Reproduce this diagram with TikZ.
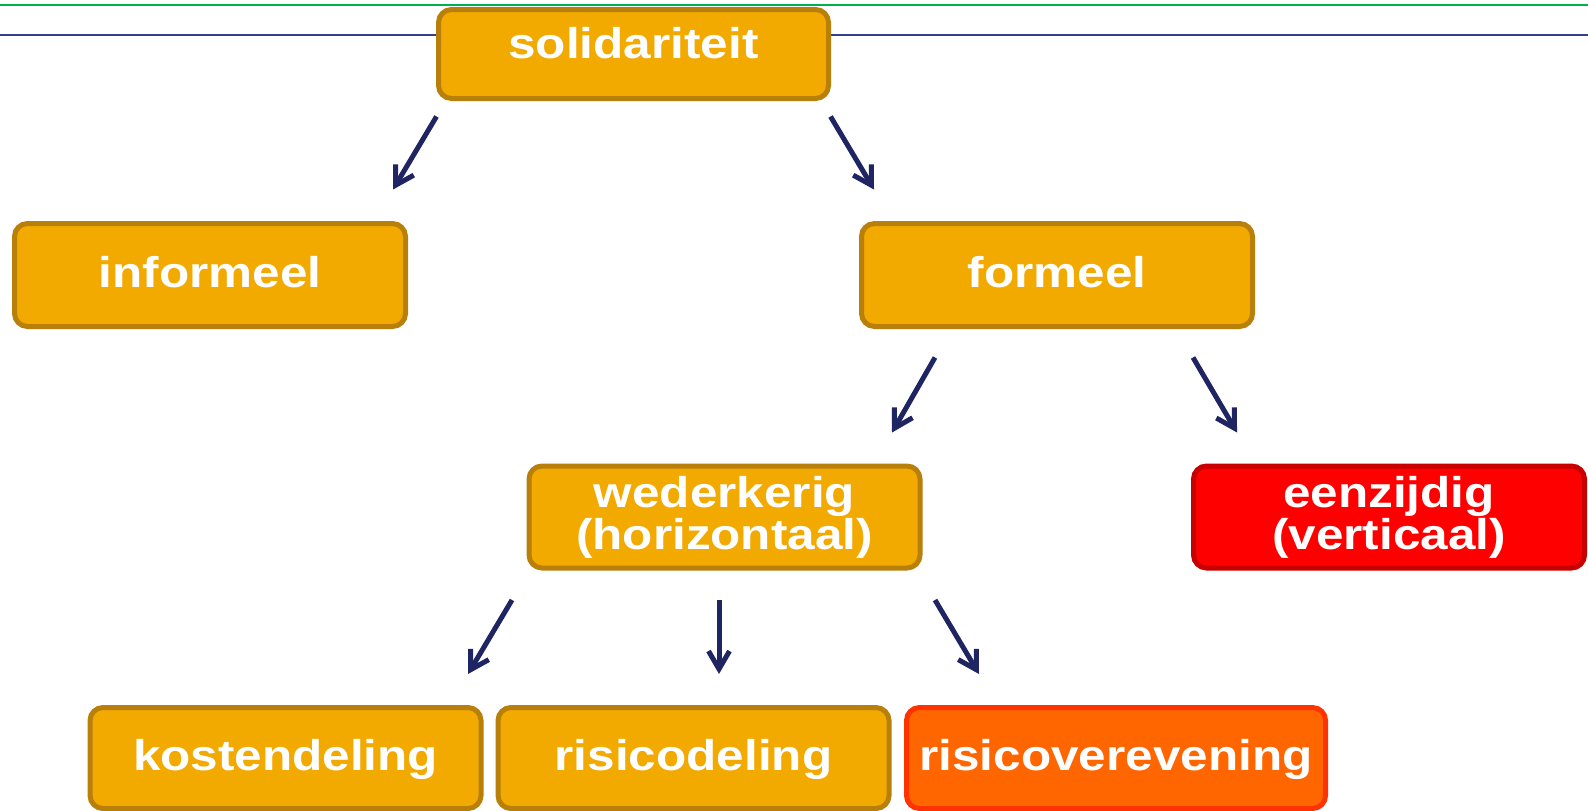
\documentclass[tikz,border=0pt]{standalone}
\usepackage{fontspec}
\setmainfont{Liberation Sans}[FakeStretch=1.15]
\usetikzlibrary{arrows.meta}
\definecolor{goldfill}{HTML}{F2A900}
\definecolor{golddraw}{HTML}{B8800A}
\definecolor{redfill}{HTML}{FF0000}
\definecolor{reddraw}{HTML}{C80000}
\definecolor{orfill}{HTML}{FF6600}
\definecolor{ordraw}{HTML}{FF3300}
\definecolor{navy}{HTML}{1F2563}
\definecolor{topblue}{HTML}{34408F}
\definecolor{topgreen}{HTML}{00B050}
\tikzset{
  box/.style={rounded corners=13pt, line width=5pt, fill=goldfill, draw=golddraw,
    text=white, font=\fontsize{43}{38}\selectfont\bfseries, align=center,
    minimum width=391pt, minimum height=103pt, inner sep=0pt},
  oneline/.style={text height=31pt, text depth=7pt},
  twoline/.style={font=\fontsize{43}{42}\selectfont\bfseries, minimum height=102pt},
  redbox/.style={box, fill=redfill, draw=reddraw},
  orbox/.style={box, fill=orfill, draw=ordraw},
  arr/.style={draw=navy, line width=5pt, -{Straight Barb[length=18pt,width=21pt]}}
}
\begin{document}
\begin{tikzpicture}[x=1pt,y=-1pt]
\useasboundingbox (0,0) rectangle (1588,811);
\coordinate (gl) at (0,4.5); \coordinate (gr) at (1588,4.5);
\coordinate (bl) at (0,35); \coordinate (br) at (1588,35);
\draw[topgreen, line width=2pt] (gl) -- (gr);
\draw[topblue, line width=2.5pt] (bl) -- (br);

\node[box, text height=31pt, text depth=22pt, minimum height=89pt, minimum width=390pt] (sol) at (633.5,54) {solidariteit};
\node[box, oneline] (inf) at (210,275) {informeel};
\node[box, oneline] (for) at (1057,275) {formeel};
\node[box, twoline] (wed) at (724.5,517) {wederkerig\\(horizontaal)};
\node[redbox, twoline] (een) at (1389,517) {eenzijdig\\(verticaal)};
\node[box, oneline, minimum height=101pt] (kos) at (285.5,758) {kostendeling};
\node[box, oneline, minimum height=101pt] (ris) at (693.5,758) {risicodeling};
\node[orbox, oneline, minimum height=101pt, minimum width=419pt] (rve) at (1116,758) {risicoverevening};

\coordinate (a1s) at (436.5,116.5); \coordinate (a1e) at (393,189.5);
\coordinate (a2s) at (830.5,116.5); \coordinate (a2e) at (874,189.5);
\coordinate (a3s) at (935,357.5);  \coordinate (a3e) at (892,432.5);
\coordinate (a4s) at (1193,357.5); \coordinate (a4e) at (1237,432.5);
\coordinate (a5s) at (512,600);    \coordinate (a5e) at (468,674);
\coordinate (a6s) at (719,600);    \coordinate (a6e) at (719,674);
\coordinate (a7s) at (935,600);    \coordinate (a7e) at (979,674);
\foreach \i in {1,...,7} { \draw[arr] (a\i s) -- (a\i e); }
\end{tikzpicture}
\end{document}
